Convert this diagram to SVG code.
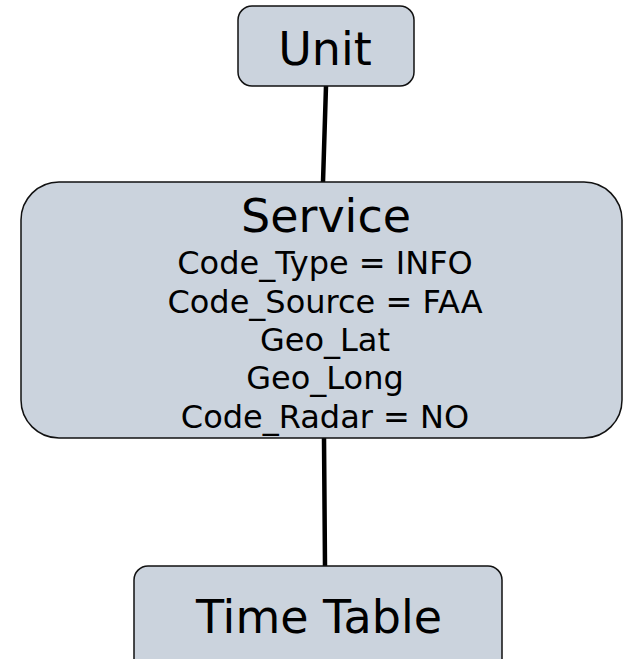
<svg xmlns="http://www.w3.org/2000/svg" width="623" height="659" viewBox="0 0 623 659">
<style>
.box{fill:#cbd3dd;stroke:#111;stroke-width:1.5}
.t{font-family:"DejaVu Sans",Verdana,sans-serif;fill:#000;text-anchor:middle}
.big{font-size:46px}
.small{font-size:32px}
.conn{stroke:#000;stroke-width:4.5;stroke-linecap:round;fill:none}
</style>
<rect width="623" height="659" fill="#fff"/>
<g id="connectors">
<line class="conn" x1="326" y1="86" x2="323" y2="182"/>
<line class="conn" x1="324" y1="438" x2="325" y2="566"/>
</g>
<g id="unit">
<rect class="box" x="238" y="6" width="176" height="80" rx="14"/>
<text class="t big" x="325" y="65">Unit</text>
</g>
<g id="service">
<rect class="box" x="21" y="182" width="601" height="256" rx="38"/>
<text class="t big" x="326" y="232">Service</text>
<text class="t small" x="325" y="274">Code_Type = INFO</text>
<text class="t small" x="325" y="313">Code_Source = FAA</text>
<text class="t small" x="325" y="351">Geo_Lat</text>
<text class="t small" x="325" y="389">Geo_Long</text>
<text class="t small" x="325" y="428">Code_Radar = NO</text>
</g>
<g id="timetable">
<rect class="box" x="134" y="566" width="368" height="110" rx="14"/>
<text class="t big" x="319" y="633">Time Table</text>
</g>
</svg>
